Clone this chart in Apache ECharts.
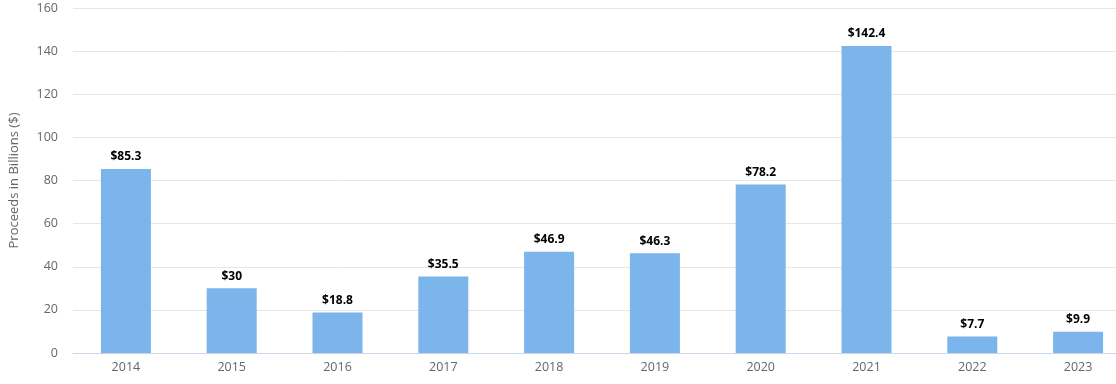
<!DOCTYPE html>
<html><head><meta charset="utf-8">
<script src="https://cdn.jsdelivr.net/npm/echarts@6/dist/echarts.min.js"></script>
<style>html,body{margin:0;padding:0;background:#fff;overflow:hidden;width:1116px;height:384px}#c{width:1131px;height:384px}</style>
</head><body><div id="c"></div>
<script>
const categories = ['2014','2015','2016','2017','2018','2019','2020','2021','2022','2023'];
const proceeds = [85.3, 30, 18.8, 35.5, 46.9, 46.3, 78.2, 142.4, 7.7, 9.9];
const yTicks = {min: 0, max: 160, interval: 20};
const yName = 'Proceeds in Billions ($)';

const chart = echarts.init(document.getElementById('c'));
chart.setOption({
  animation: false,
  textStyle: {fontFamily: 'Open Sans'},
  grid: {left: 67, right: 0, top: 8, bottom: 31, containLabel: false},
  xAxis: {
    type: 'category', data: categories,
    axisTick: {show: false},
    axisLine: {lineStyle: {color: '#ccd6eb'}},
    axisLabel: {color: '#666', fontSize: 12.5, margin: 8, fontFamily: 'Open Sans'}
  },
  yAxis: {
    type: 'value', min: yTicks.min, max: yTicks.max, interval: yTicks.interval,
    name: yName, nameLocation: 'middle', nameGap: 52, nameRotate: 90,
    nameTextStyle: {color: '#666', fontSize: 13, fontFamily: 'Open Sans'},
    axisLabel: {color: '#666', fontSize: 12.5, margin: 15, fontFamily: 'Open Sans'},
    splitLine: {lineStyle: {color: '#e6e6e6'}},
    axisLine: {show: false}, axisTick: {show: false}
  },
  series: [{
    type: 'bar', data: proceeds, barWidth: 50,
    itemStyle: {color: '#7cb5ec'},
    label: {show: true, position: 'top', distance: 6, color: '#000', fontWeight: 'bold', fontSize: 12,
      fontFamily: 'Open Sans', formatter: p => '$' + p.value}
  }]
});
</script></body></html>
